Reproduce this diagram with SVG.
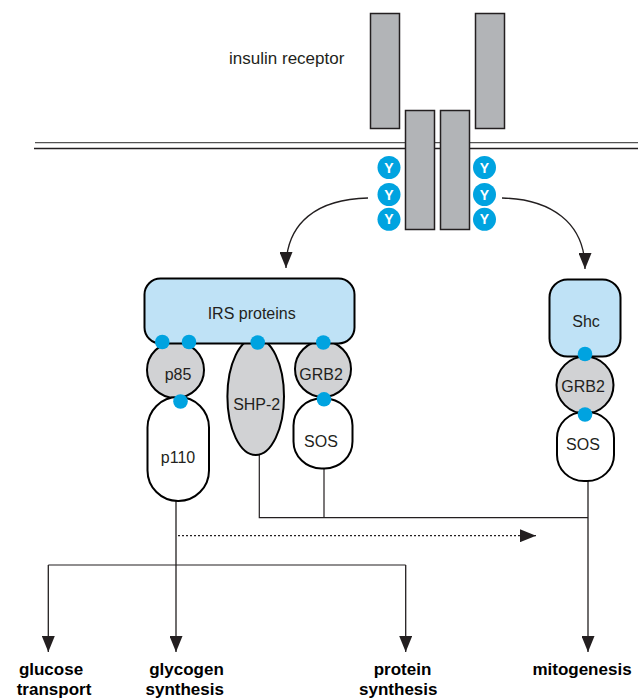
<svg xmlns="http://www.w3.org/2000/svg" width="638" height="698" viewBox="0 0 638 698">
<style>
text{font-family:"Liberation Sans",Arial,sans-serif;fill:#231f20;text-anchor:middle}
.lbl{font-size:16px}
.out{font-size:17px;font-weight:bold;fill:#000}
.rec{fill:#b2b4b7;stroke:#231f20;stroke-width:1.5}
.gray{fill:#d1d2d4;stroke:#000;stroke-width:2}
.white{fill:#fff;stroke:#000;stroke-width:2}
.blue{fill:#bfe2f6;stroke:#000;stroke-width:2}
.dot{fill:#00a3e0}
.ybg{fill:#00a3e0}
.y{font-size:14px;font-weight:bold;fill:#fff}
.ln{fill:none;stroke:#231f20;stroke-width:1.2}
.arr{fill:none;stroke:#231f20;stroke-width:1.3;marker-end:url(#ah)}
</style>
<defs>
<marker id="ah" viewBox="0 0 16 13" refX="16" refY="6.5" markerWidth="16" markerHeight="13" markerUnits="userSpaceOnUse" orient="auto">
<path d="M0,0 L16,6.5 L0,13 z" fill="#231f20"/>
</marker>
</defs>

<g id="membrane">
<line x1="35" y1="142.7" x2="638" y2="142.7" stroke="#555" stroke-width="1.3"/>
<line x1="34" y1="148.5" x2="638" y2="148.5" stroke="#231f20" stroke-width="1.3"/>
</g>

<g id="insulin-receptor">
<rect class="rec" x="370.5" y="13.5" width="29" height="115"/>
<rect class="rec" x="475.5" y="13.5" width="29" height="115"/>
<rect class="rec" x="405.5" y="110.5" width="29" height="119"/>
<rect class="rec" x="440.5" y="110.5" width="29" height="119"/>
<text class="lbl" x="286.7" y="64" style="font-size:17px">insulin receptor</text>
</g>

<g id="phospho-tyrosines">
<circle class="ybg" cx="389" cy="167.5" r="11.5"/>
<circle class="ybg" cx="389" cy="194.5" r="11.5"/>
<circle class="ybg" cx="389" cy="219.3" r="11.5"/>
<circle class="ybg" cx="484.5" cy="167.5" r="11.5"/>
<circle class="ybg" cx="484.5" cy="194.5" r="11.5"/>
<circle class="ybg" cx="484.5" cy="219.3" r="11.5"/>
<text class="y" x="389" y="172.5">Y</text>
<text class="y" x="389" y="199.5">Y</text>
<text class="y" x="389" y="224.3">Y</text>
<text class="y" x="484.5" y="172.5">Y</text>
<text class="y" x="484.5" y="199.5">Y</text>
<text class="y" x="484.5" y="224.3">Y</text>
</g>

<g id="connectors">
<path class="arr" d="M368,198 C318,199 286,222 286,268"/>
<path class="arr" d="M502,198 C550,199 585,222 585,269"/>
<path class="ln" d="M259.3,455 V517.7 H588 M324,468 V517.7"/>
<path class="arr" d="M588,481 V652"/>
<path class="arr" d="M176,501 V652"/>
<path class="ln" d="M48.3,565 H405.7"/>
<path class="arr" d="M48.3,565 V652"/>
<path class="arr" d="M405.7,565 V652"/>
<path fill="none" stroke="#231f20" stroke-width="1.2" stroke-dasharray="2,2" d="M178,535.7 H536" marker-end="url(#ah)"/>
</g>

<g id="p85">
<ellipse class="gray" cx="175.5" cy="370" rx="28.5" ry="28"/>
<text class="lbl" x="178" y="380">p85</text>
</g>
<g id="grb2-irs">
<circle class="gray" cx="323" cy="369" r="28"/>
<text class="lbl" x="321" y="380">GRB2</text>
</g>
<g id="shp2">
<ellipse class="gray" cx="255.7" cy="396.5" rx="28.3" ry="58.5"/>
<text class="lbl" x="256.7" y="410">SHP-2</text>
</g>
<g id="p110">
<rect class="white" x="147.5" y="397" width="61.5" height="104" rx="30.5" ry="30.5"/>
<text class="lbl" x="178" y="463">p110</text>
</g>
<g id="sos-irs">
<rect class="white" x="293.5" y="398.5" width="59" height="70" rx="28" ry="27"/>
<text class="lbl" x="321" y="447">SOS</text>
</g>
<g id="irs-proteins">
<rect class="blue" x="144.5" y="278.5" width="210" height="65" rx="16" ry="16"/>
<text class="lbl" x="251.7" y="319">IRS proteins</text>
</g>

<g id="grb2-shc">
<circle class="gray" cx="585" cy="385" r="28.5"/>
<text class="lbl" x="583" y="391.5">GRB2</text>
</g>
<g id="sos-shc">
<rect class="white" x="557" y="412" width="57" height="69" rx="27" ry="26"/>
<text class="lbl" x="583" y="450">SOS</text>
</g>
<g id="shc">
<rect class="blue" x="549.5" y="279.5" width="71" height="77" rx="18" ry="18"/>
<text class="lbl" x="586" y="327">Shc</text>
</g>

<g id="binding-sites">
<circle class="dot" cx="162.3" cy="342" r="7.3"/>
<circle class="dot" cx="189" cy="342" r="7.3"/>
<circle class="dot" cx="257.7" cy="342.5" r="7.3"/>
<circle class="dot" cx="323.3" cy="342.5" r="7.3"/>
<circle class="dot" cx="180.5" cy="401.5" r="7.3"/>
<circle class="dot" cx="324" cy="399.3" r="7.3"/>
<circle class="dot" cx="585" cy="354" r="7.3"/>
<circle class="dot" cx="585" cy="414.5" r="7.3"/>
</g>

<g id="outcomes">
<text class="out" x="51" y="675">glucose</text>
<text class="out" x="54" y="695">transport</text>
<text class="out" x="186.5" y="675">glycogen</text>
<text class="out" x="184.7" y="695">synthesis</text>
<text class="out" x="402.5" y="675">protein</text>
<text class="out" x="398.3" y="695">synthesis</text>
<text class="out" x="582" y="675">mitogenesis</text>
</g>
</svg>
